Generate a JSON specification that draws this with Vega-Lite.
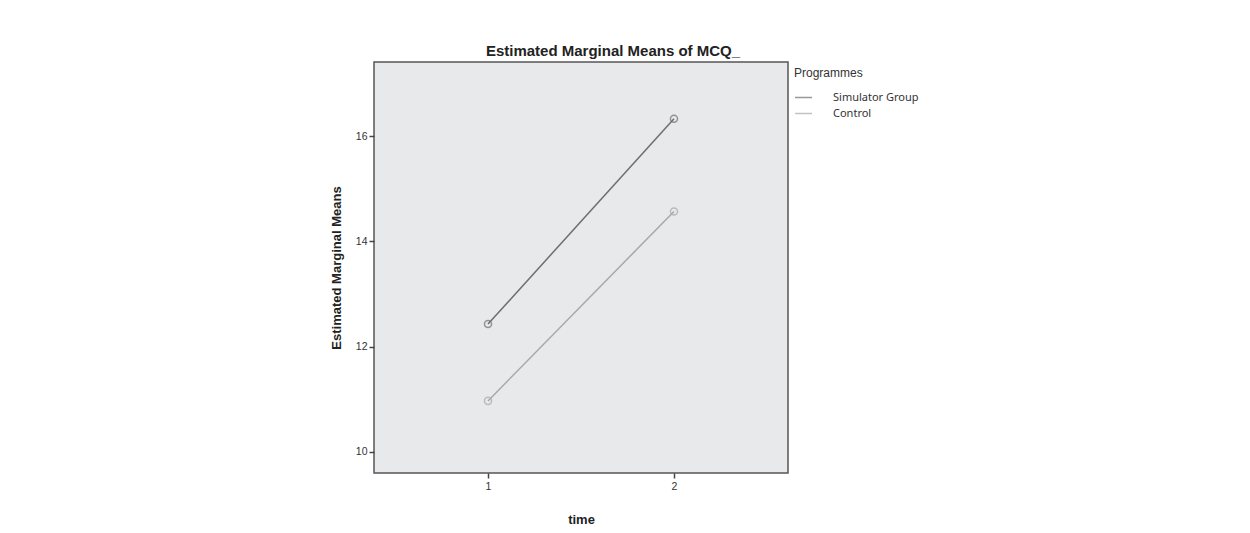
{
  "$schema": "https://vega.github.io/schema/vega-lite/v6.json",
  "description": "Estimated Marginal Means of MCQ_ by time and programme",
  "width": 414,
  "height": 411,
  "autosize": "none",
  "padding": {"left": 374, "top": 62, "right": 462, "bottom": 60},
  "background": "white",
  "title": {
    "text": "Estimated Marginal Means of MCQ_",
    "font": "Liberation Sans",
    "fontSize": 15,
    "fontWeight": "bold",
    "color": "#222222",
    "anchor": "middle",
    "dx": 32,
    "offset": 3
  },
  "config": {
    "view": {"fill": "#e8e9eb", "stroke": "#555555", "strokeWidth": 1.5},
    "axis": {
      "labelFont": "Liberation Sans",
      "labelFontSize": 10.5,
      "labelColor": "#333333",
      "titleFont": "Liberation Sans",
      "titleFontSize": 13,
      "titleFontWeight": "bold",
      "titleColor": "#222222",
      "tickColor": "#444444",
      "tickSize": 5,
      "tickWidth": 1.5,
      "domain": false,
      "grid": false
    }
  },
  "data": {
    "values": [
      {"time": 1, "programme": "Simulator Group", "mean": 12.43},
      {"time": 2, "programme": "Simulator Group", "mean": 16.33},
      {"time": 1, "programme": "Control", "mean": 10.97},
      {"time": 2, "programme": "Control", "mean": 14.57}
    ]
  },
  "encoding": {
    "x": {
      "field": "time",
      "type": "quantitative",
      "scale": {"domain": [0.387, 2.613], "nice": false, "zero": false},
      "axis": {"title": "time", "values": [1, 2], "format": "d", "labelPadding": 3, "titlePadding": 22}
    },
    "y": {
      "field": "mean",
      "type": "quantitative",
      "scale": {"domain": [9.6, 17.41], "nice": false, "zero": false},
      "axis": {"title": "Estimated Marginal Means", "values": [10, 12, 14, 16], "labelPadding": 2, "titlePadding": 12}
    },
    "color": {
      "field": "programme",
      "type": "nominal",
      "scale": {"domain": ["Simulator Group", "Control"], "range": ["#6e6e6e", "#a8a8a8"]},
      "legend": {
        "title": "Programmes",
        "orient": "none",
        "legendX": 420,
        "legendY": 6,
        "titleFont": "Liberation Sans",
        "titleFontSize": 12,
        "titleFontWeight": "normal",
        "titleColor": "#333333",
        "titlePadding": 8,
        "labelFont": "Noto Sans",
        "labelFontSize": 11,
        "labelColor": "#333333",
        "labelOffset": 20,
        "symbolType": "stroke",
        "symbolSize": 289,
        "symbolStrokeWidth": 1.5,
        "rowPadding": 1
      }
    }
  },
  "layer": [
    {
      "mark": {"type": "line", "strokeWidth": 1.5},
      "encoding": {"detail": {"field": "programme"}}
    },
    {
      "mark": {"type": "point", "filled": false, "size": 50, "strokeWidth": 1.5}
    }
  ]
}
